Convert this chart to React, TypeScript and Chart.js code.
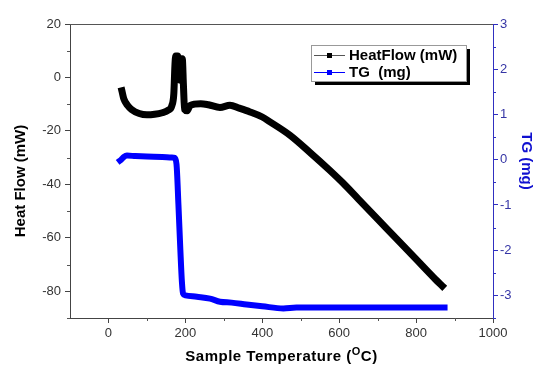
import React, { useEffect, useRef } from "react";
import { Chart, registerables } from "chart.js";

Chart.register(...registerables);

// ---- data ----
const heatTemp = [35, 40, 50, 60, 80, 100, 120, 140, 155, 165, 170, 173, 175, 180, 183, 186, 188, 192, 195, 198, 205, 212, 240, 260, 290, 316, 340, 368, 400, 420, 472, 523, 576, 610, 650, 700, 750, 800, 850, 868];
const heatFlow = [-5, -8, -10.5, -12, -13.5, -14, -13.8, -13.2, -12.3, -10.5, -6, 5, 8, 8, 0, -1, 7, 7, -3, -12, -12.5, -10.5, -9.8, -10.2, -11.2, -10.4, -11.5, -12.9, -14.8, -16.6, -21.6, -27.9, -34.8, -39.5, -45.5, -53, -60.5, -68, -75.5, -78];

const tgTemp = [30, 33, 40, 48, 70, 100, 140, 165, 172, 177, 182, 187, 191, 194, 200, 230, 264, 290, 320, 359, 400, 455, 489, 550, 700, 874];
const tgMass = [-0.02, 0, 0.06, 0.09, 0.08, 0.07, 0.06, 0.05, 0.04, -0.1, -1.0, -2.0, -2.7, -2.96, -3.0, -3.03, -3.07, -3.14, -3.16, -3.2, -3.24, -3.29, -3.27, -3.27, -3.27, -3.27];

const tempTicks = [0, 200, 400, 600, 800, 1000];
const tempMinor = [100, 300, 500, 700, 900];
const heatTicks = [-80, -60, -40, -20, 0, 20];
const heatMinor = [-90, -70, -50, -30, -10, 10];
const tgTicks = [-3, -2, -1, 0, 1, 2, 3];
const tgMinor = [-3.5, -2.5, -1.5, -0.5, 0.5, 1.5, 2.5];

const heatLabel = "HeatFlow (mW)";
const tgLabel = "TG  (mg)";
const xTitleA = "Sample Temperature (";
const xTitleSup = "O";
const xTitleB = "C)";
const yTitle = "Heat Flow (mW)";
const y2Title = "TG (mg)";

const FONT = "'Liberation Sans', Arial, sans-serif";
const BLUE = "#0000ff";
const AXIS_BLUE = "#3030c0";

const overlay = {
  id: "overlay",
  afterDraw(chart: any) {
    const ctx = chart.ctx;
    const { left, right, top, bottom } = chart.chartArea;
    const sx = chart.scales.x, sy = chart.scales.y, sy2 = chart.scales.y2;
    ctx.save();
    // top frame
    ctx.strokeStyle = "#555";
    ctx.lineWidth = 1;
    ctx.beginPath();
    ctx.moveTo(left, top + 0.5);
    ctx.lineTo(right, top + 0.5);
    ctx.stroke();
    // minor ticks
    ctx.beginPath();
    tempMinor.forEach((v) => {
      const p = Math.round(sx.getPixelForValue(v)) + 0.5;
      ctx.moveTo(p, bottom);
      ctx.lineTo(p, bottom + 3);
    });
    heatMinor.forEach((v) => {
      const p = Math.round(sy.getPixelForValue(v)) + 0.5;
      ctx.moveTo(left, p);
      ctx.lineTo(left - 3, p);
    });
    ctx.stroke();
    ctx.strokeStyle = AXIS_BLUE;
    ctx.beginPath();
    tgMinor.forEach((v) => {
      const p = Math.round(sy2.getPixelForValue(v)) + 0.5;
      ctx.moveTo(right, p);
      ctx.lineTo(right + 3, p);
    });
    ctx.stroke();

    // titles
    ctx.fillStyle = "#000";
    ctx.textBaseline = "middle";
    ctx.letterSpacing = "0.5px";
    ctx.font = `bold 15px ${FONT}`;
    const wA = ctx.measureText(xTitleA).width;
    ctx.font = `bold 11px ${FONT}`;
    const wS = ctx.measureText(xTitleSup).width;
    ctx.font = `bold 15px ${FONT}`;
    const wB = ctx.measureText(xTitleB).width;
    const cx = (left + right) / 2;
    const x0 = cx - (wA + wS + wB) / 2;
    const ty = 357;
    ctx.textAlign = "left";
    ctx.fillText(xTitleA, x0, ty);
    ctx.font = `bold 11px ${FONT}`;
    ctx.fillText(xTitleSup, x0 + wA, ty - 5);
    ctx.font = `bold 15px ${FONT}`;
    ctx.fillText(xTitleB, x0 + wA + wS, ty);
    ctx.letterSpacing = "0px";

    ctx.save();
    ctx.translate(21, 181);
    ctx.rotate(-Math.PI / 2);
    ctx.textAlign = "center";
    ctx.fillText(yTitle, 0, 0);
    ctx.restore();

    ctx.save();
    ctx.translate(526, 161);
    ctx.rotate(Math.PI / 2);
    ctx.textAlign = "center";
    ctx.fillStyle = "#1010d0";
    ctx.fillText(y2Title, 0, 0);
    ctx.restore();

    // legend
    const bx = 311, by = 45, bw = 155, bh = 36;
    ctx.fillStyle = "#000";
    ctx.fillRect(bx + 4, by + 4, bw, bh);
    ctx.fillStyle = "#fff";
    ctx.fillRect(bx, by, bw, bh);
    ctx.strokeStyle = "#999";
    ctx.strokeRect(bx + 0.5, by + 0.5, bw, bh);
    const rows = [
      { label: chart.data.datasets[0].label, color: "#000", line: "#555", y: by + 10 },
      { label: chart.data.datasets[1].label, color: BLUE, line: BLUE, y: by + 27 },
    ];
    rows.forEach((r) => {
      ctx.strokeStyle = r.line;
      ctx.lineWidth = 1;
      ctx.beginPath();
      ctx.moveTo(314, r.y + 0.5);
      ctx.lineTo(345, r.y + 0.5);
      ctx.stroke();
      ctx.fillStyle = r.color;
      ctx.fillRect(327, r.y - 2, 5, 5);
      ctx.fillStyle = "#000";
      ctx.font = `bold 15px ${FONT}`;
      ctx.textAlign = "left";
      ctx.textBaseline = "middle";
      ctx.fillText(r.label, 349, r.y + 1);
    });
    ctx.restore();
  },
};

export default function App() {
  const ref = useRef<HTMLCanvasElement>(null);
  useEffect(() => {
    if (!ref.current) return;
    const setTicks = (arr: number[]) => (scale: any) => {
      scale.ticks = arr.map((v) => ({ value: v }));
    };
    const plain = (v: any) => String(v);
    const chart = new Chart(ref.current, {
      type: "line",
      data: {
        datasets: [
          {
            label: heatLabel,
            data: heatTemp.map((t, i) => ({ x: t, y: heatFlow[i] })),
            borderColor: "#000",
            borderWidth: 7,
            pointRadius: 0,
            yAxisID: "y",
            cubicInterpolationMode: "monotone",
            borderJoinStyle: "round",
            borderCapStyle: "square",
          },
          {
            label: tgLabel,
            data: tgTemp.map((t, i) => ({ x: t, y: tgMass[i] })),
            borderColor: BLUE,
            borderWidth: 6,
            pointRadius: 0,
            yAxisID: "y2",
            cubicInterpolationMode: "monotone",
            borderJoinStyle: "round",
            borderCapStyle: "square",
          },
        ],
      },
      options: {
        animation: false,
        responsive: false,
        maintainAspectRatio: false,
        layout: { padding: { top: 24, left: 0, right: 0, bottom: 0 } },
        plugins: { legend: { display: false }, tooltip: { enabled: false } },
        scales: {
          x: {
            type: "linear",
            min: -100,
            max: 1000,
            afterBuildTicks: setTicks(tempTicks),
            afterFit: (s: any) => { s.height = 49; },
            grid: { drawOnChartArea: false, tickLength: 5, color: "#444" },
            border: { color: "#444", width: 1 },
            ticks: { color: "#333", font: { family: FONT, size: 13 }, padding: 3, maxRotation: 0, callback: plain },
          },
          y: {
            type: "linear",
            position: "left",
            min: -90,
            max: 20,
            afterBuildTicks: setTicks(heatTicks),
            afterFit: (s: any) => { s.width = 70; },
            grid: { drawOnChartArea: false, tickLength: 5, color: "#444" },
            border: { color: "#444", width: 1 },
            ticks: { color: "#333", font: { family: FONT, size: 13 }, padding: 4, callback: plain },
          },
          y2: {
            type: "linear",
            position: "right",
            min: -3.5,
            max: 3,
            afterBuildTicks: setTicks(tgTicks),
            afterFit: (s: any) => { s.width = 43; },
            grid: { drawOnChartArea: false, tickLength: 5, color: AXIS_BLUE },
            border: { color: AXIS_BLUE, width: 1 },
            ticks: { color: "#3535a5", font: { family: FONT, size: 13 }, padding: 2, callback: plain },
          },
        },
      },
      plugins: [overlay],
    });
    return () => chart.destroy();
  }, []);
  return (
    <div style={{ position: "fixed", left: 0, top: 0, width: 536, height: 367, background: "#fff" }}>
      <canvas ref={ref} width={536} height={367} style={{ width: 536, height: 367 }} />
    </div>
  );
}
